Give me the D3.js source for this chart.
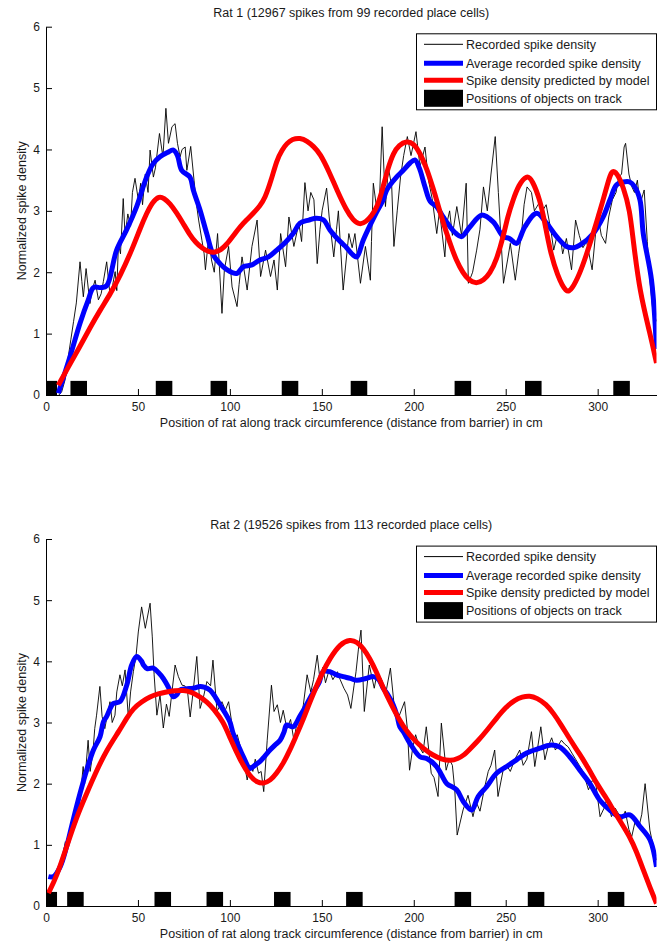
<!DOCTYPE html>
<html lang="en">
<head>
<meta charset="UTF-8">
<title>Normalized spike density along the track</title>
<script src="https://d3js.org/d3.v7.min.js"></script>
<style>
    body { margin: 0; background: #fff; }
    svg text { font-family: "Liberation Sans", Arial, sans-serif; fill: #1a1a1a; }
</style>
</head>
<body>
<svg id="chart" width="657" height="943"></svg>
<script>
    // tick labels
    const positionTicks = [0, 50, 100, 150, 200, 250, 300];
    const densityTicks = [0, 1, 2, 3, 4, 5, 6];
    const legendLabels = ["Recorded spike density", "Average recorded spike density",
        "Spike density predicted by model", "Positions of objects on track"];
    const xLabel = "Position of rat along track circumference (distance from barrier) in cm";
    const yLabel = "Normalized spike density";

    // ---- Rat 1 ----
    const rat1Title = "Rat 1 (12967 spikes from 99 recorded place cells)";
    const rat1Objects = [1.5, 17.8, 64.2, 94, 132.7, 170.2, 226.7, 265, 313];
    const rat1Recorded = [
        [7,0.0],[8.5,0.05],[10.3,0.24],[12,0.6],[13.5,0.9],[15,1.2],[16.5,1.5],[18.5,2.17],[19.5,1.85],[20.3,1.6],
        [21.8,2.06],[23.9,1.49],[25,1.7],[26.7,1.87],[28.5,1.55],[30,1.65],[31.2,1.85],[33,2.17],[34.9,1.6],[36.3,1.8],
        [37.6,2.01],[38.5,1.7],[39.4,2.47],[40.5,2.3],[42,3.2],[43,2.6],[44.5,2.95],[46,2.75],[47,3.3],[48.4,3.53],
        [50.2,3.18],[51.5,3.45],[52.5,3.1],[54,3.6],[55.5,3.3],[56.6,3.99],[58.4,3.55],[59.5,3.7],[61.7,4.26],[63.6,3.88],
        [65.2,4.67],[66.6,4.1],[68.5,4.37],[70.2,4.42],[71.5,4.1],[72.9,3.88],[74,4.0],[75.7,4.04],[76.6,3.66],[78.7,4.05],
        [80.5,3.5],[82,3.07],[83,2.85],[84.8,2.52],[86,2.3],[86.7,2.04],[88.5,2.58],[90,2.2],[91.5,2.0],[93.3,2.63],
        [95.7,1.33],[97,2.04],[99.3,2.42],[101.2,1.76],[103.9,1.44],[105,1.8],[106.6,2.25],[109.4,1.71],[112,2.42],[114.8,2.85],
        [116.7,1.93],[119.4,2.36],[122.1,1.93],[124,2.2],[125.8,1.71],[127.6,2.63],[130.3,2.09],[132.1,2.9],[134.8,2.42],[137.5,2.8],
        [139,2.5],[140.8,3.46],[142.5,3.0],[144,3.3],[145.7,3.18],[147.5,2.14],[149,2.7],[150.2,3.01],[152.6,3.37],[154,2.9],
        [156.5,2.25],[158,2.7],[159,3.0],[160,2.5],[161.6,1.71],[164.7,2.63],[166.5,2.4],[168,2.63],[171,1.82],[173.7,2.42],
        [176.4,1.87],[177,2.5],[178,3.45],[180,3.0],[181.5,3.3],[182.8,4.37],[184.6,3.07],[186.2,3.7],[188,3.4],[189.2,2.42],
        [191,3.0],[192.8,3.55],[194.5,3.9],[196.5,4.21],[198.5,3.9],[201.2,4.29],[203.4,3.72],[206.1,4.04],[208,3.5],[210,3.2],
        [212.5,2.63],[214,3.0],[216.9,2.25],[218,2.8],[219.5,3.0],[221,2.6],[223.4,3.07],[226,2.6],[228.5,3.45],[229.7,1.82],
        [232,2.0],[234.2,2.36],[236,2.7],[237.9,3.39],[240,3.0],[242,3.6],[244.3,4.21],[246,3.3],[248.8,1.82],[251,2.2],
        [252.5,2.47],[255.2,1.87],[257,2.3],[258.5,2.6],[260,3.1],[261.6,3.39],[264,3.3],[265.6,3.0],[268,3.12],[270,3.0],
        [272,3.1],[274.5,2.7],[276.1,2.36],[278,2.6],[280,2.5],[281,2.3],[283,2.55],[285.8,2.04],[288,2.85],[290,2.6],
        [292,2.4],[294,2.5],[297,2.04],[299.9,2.96],[302,2.6],[304.3,2.47],[306,2.9],[308,3.18],[310,3.3],[311.5,3.55],
        [313,3.6],[314.4,4.04],[315.2,4.1],[317,3.6],[318.5,3.4],[320,3.3],[321.6,3.5],[323,3.1],[325.3,3.34],[327,2.5],
        [328,2.0],[329.8,1.44],[331,1.3],[332,1.2]
    ];
    const rat1Average = [
        [6.7,0.03],[13,0.62],[18.5,1.17],[23,1.55],[25.8,1.75],[30,1.75],[33,1.78],[38.4,2.36],[43.8,2.69],[49.3,3.07],
        [54.7,3.55],[58.3,3.77],[62,3.88],[66,3.95],[69.3,3.99],[71.5,3.9],[73.8,3.66],[78.3,3.55],[80.1,3.34],[83.8,3.01],
        [87.4,2.63],[91,2.28],[94.6,2.14],[98,2.05],[103.7,1.98],[107.3,2.09],[112,2.12],[116.3,2.2],[121,2.25],[125.5,2.36],
        [130,2.48],[134.4,2.63],[138.1,2.8],[143,2.85],[147.1,2.88],[151,2.85],[154.4,2.69],[160,2.5],[163.5,2.4],[167,2.28],
        [169,2.25],[172.5,2.52],[176,2.75],[179.8,2.98],[183.4,3.18],[185.3,3.34],[190.6,3.55],[194.3,3.66],[198,3.78],[200.6,3.83],
        [203,3.7],[206,3.4],[209,3.15],[212.4,3.07],[216,2.9],[219.7,2.74],[223,2.63],[226,2.58],[230.6,2.74],[236.9,2.93],
        [243.2,2.82],[248.7,2.58],[252,2.55],[255.9,2.47],[260.4,2.74],[266.8,2.96],[272.2,2.8],[277.7,2.58],[283.1,2.42],[287,2.4],
        [290.3,2.44],[297.6,2.63],[303,2.9],[306.7,3.18],[310.2,3.42],[314,3.47],[317.5,3.47],[320,3.4],[323,3.18],[324.8,2.63],
        [329.3,1.87],[332,0.75]
    ];
    const rat1Model = [
        [6.7,0.16],[12,0.45],[18.5,0.79],[24,1.1],[29.4,1.38],[35,1.65],[40.2,1.93],[47.5,2.42],[51,2.7],[54.7,2.96],
        [58,3.15],[61.6,3.24],[64,3.21],[67.5,3.12],[71,2.97],[74.5,2.8],[78,2.62],[81.5,2.48],[85,2.39],[88.5,2.33],
        [91.8,2.32],[95,2.36],[98.2,2.45],[102,2.6],[105.5,2.74],[109,2.85],[112.7,2.96],[116.3,3.08],[119,3.2],[122.5,3.5],
        [125.5,3.83],[128.5,4.0],[131,4.1],[134,4.17],[138.1,4.19],[142,4.14],[145.5,4.05],[149,3.94],[154.4,3.61],[158,3.35],
        [163.5,3.0],[167,2.85],[170.5,2.77],[174,2.82],[177,2.92],[180,3.05],[183,3.35],[186,3.7],[189,3.95],[192,4.07],
        [196,4.14],[200,4.1],[203.4,3.94],[207,3.7],[210.7,3.35],[212.4,3.18],[215,2.9],[219.7,2.47],[223,2.2],[226.9,1.98],
        [230,1.87],[234,1.81],[238,1.87],[241.4,1.98],[245,2.2],[248.7,2.58],[251,2.9],[254,3.18],[257,3.42],[261.4,3.59],
        [264.5,3.5],[268.6,3.18],[271,2.85],[274,2.36],[278,1.95],[283,1.65],[286,1.72],[290.3,1.98],[293.5,2.25],[297.6,2.63],
        [303,3.18],[305.5,3.45],[307.6,3.67],[310.5,3.62],[314,3.39],[317.5,3.01],[319.3,2.52],[323,1.66],[328.5,1.0],[332,0.52]
    ];

    // ---- Rat 2 ----
    const rat2Title = "Rat 2 (19526 spikes from 113 recorded place cells)";
    const rat2Objects = [1.5, 16, 63.5, 91.8, 128.5, 167.7, 226.7, 266.5, 310];
    const rat2Recorded = [
        [5,0.45],[7,0.6],[9,0.8],[10.5,1.05],[12,0.95],[13.5,1.25],[15,1.4],[16.5,1.35],[17.5,1.46],[19,1.9],
        [20.2,2.28],[21,2.0],[22.9,2.71],[24,2.2],[25.5,2.5],[26.5,2.9],[27.5,3.12],[29.3,3.59],[30.5,3.1],[32,2.9],
        [33.5,3.15],[34.8,3.34],[36,3.0],[37.5,3.12],[38.5,3.5],[40.2,3.78],[41.5,3.6],[43,3.86],[44.8,3.07],[46,3.5],
        [47.5,3.83],[49,4.1],[50.2,4.48],[52,4.89],[54,4.54],[56.6,4.95],[57.8,4.4],[58.8,3.78],[60.3,3.12],[62,3.45],
        [63.8,2.91],[65.5,3.3],[67,3.1],[68.5,3.5],[70.2,3.94],[72,3.75],[74,3.61],[75.5,3.6],[77,3.5],[78.4,3.09],
        [80,3.5],[82,4.08],[83.8,3.23],[85.5,3.4],[87.5,3.67],[89.5,3.6],[90.8,4.02],[93,3.18],[95.7,3.34],[97.5,3.2],
        [99.3,3.34],[101,3.0],[102,2.71],[104,2.8],[105.7,2.6],[107.5,2.4],[109.4,2.06],[111,2.3],[112.5,2.2],[113.8,2.4],
        [115.6,2.17],[117,2.2],[118.4,1.87],[120.3,2.71],[122.6,3.61],[124,3.18],[125.8,3.29],[127.5,3.0],[129,3.2],[131,2.9],
        [133,3.05],[134.8,2.71],[136.5,3.0],[138,2.9],[140,3.3],[142,3.78],[144,3.5],[145.5,3.7],[147.5,4.1],[149,3.7],
        [150.5,3.9],[152,3.65],[154,3.86],[156,3.7],[158.5,3.83],[160,3.7],[162,3.56],[164,3.45],[165.8,3.23],[167.5,3.6],
        [168.6,3.83],[169.9,4.2],[171.3,4.51],[173.1,3.18],[175.8,3.94],[178.5,3.56],[180,3.8],[182.2,3.72],[184.9,3.5],[187.3,3.89],
        [189.5,3.23],[192.2,3.12],[195,3.34],[196.5,2.9],[197.7,2.22],[199.5,2.6],[201,2.8],[203,2.6],[205,2.5],[206.8,2.93],
        [209.5,2.17],[211,2.1],[213.2,1.79],[215,2.99],[217.6,2.22],[219.3,2.4],[221,2.3],[222.3,1.9],[223.6,1.16],[226.8,1.57],
        [229.5,1.81],[232.2,1.46],[234,1.7],[236,1.55],[238.6,1.95],[240.5,2.2],[242,2.3],[244,2.55],[245.8,1.79],[248.6,2.22],
        [250.5,2.3],[252.5,2.2],[255,2.4],[257.6,2.55],[259.5,2.3],[261.5,2.4],[264,2.85],[265.8,2.28],[269.1,2.93],[271.3,2.39],
        [273,2.6],[275,2.75],[277,2.55],[280.3,2.71],[282,2.65],[284,2.6],[286,2.5],[288,2.4],[290,2.3],[292,2.2],
        [295,1.9],[297,2.05],[299,2.0],[301.3,1.46],[303.5,1.6],[305,1.75],[307.5,1.46],[309.5,1.6],[311.5,1.5],[313,1.4],
        [315,1.55],[317,1.25],[318.5,1.13],[320.5,1.4],[322.5,1.3],[324,1.5],[325.8,2.0],[328.4,1.24],[331,0.86],[332,0.75]
    ];
    const rat2Average = [
        [1.3,0.48],[4,0.48],[7.7,0.64],[11.2,0.97],[14.8,1.41],[18.5,1.84],[22.1,2.22],[25.8,2.55],[29.4,2.77],[31.2,3.01],
        [33,3.1],[36.6,3.31],[40.2,3.34],[43.9,3.61],[46.6,3.94],[49.3,4.08],[52,4.0],[53,3.94],[55,3.88],[58.3,3.89],
        [61,3.82],[63.8,3.72],[66.5,3.58],[69.3,3.42],[71,3.45],[72.8,3.53],[76,3.55],[80.1,3.56],[83.8,3.59],[86,3.58],
        [89.2,3.53],[92,3.42],[94.6,3.29],[97.5,3.15],[100,3.01],[101.8,2.82],[104.5,2.63],[107.3,2.44],[111,2.25],[113.5,2.3],
        [116.3,2.36],[119,2.45],[121.8,2.55],[124.5,2.63],[127.3,2.71],[129.5,2.85],[130.8,2.96],[134.4,2.93],[138,3.1],[140,3.2],
        [145.4,3.5],[148.5,3.65],[150.7,3.83],[154.4,3.83],[158,3.78],[161.6,3.75],[165.5,3.72],[169,3.69],[174,3.72],[178,3.75],
        [181,3.7],[183.4,3.56],[186,3.45],[188.8,3.29],[191,3.1],[192.4,2.93],[194.3,2.85],[197.9,2.66],[203.4,2.44],[207,2.41],
        [212.4,2.28],[215,2.15],[218,2.0],[223.3,1.9],[226.9,1.71],[231.5,1.57],[235,1.79],[239.6,1.95],[245,2.17],[250.5,2.28],
        [255.9,2.39],[261.4,2.5],[268.6,2.58],[274,2.63],[279.4,2.6],[284.8,2.44],[290.3,2.22],[295.8,2.0],[301.2,1.73],[306.6,1.57],
        [312,1.46],[317.5,1.49],[323,1.3],[328.5,1.08],[332,0.64]
    ];
    const rat2Model = [
        [1.3,0.21],[5.8,0.48],[11.2,0.97],[16.7,1.46],[22.1,1.84],[27.6,2.22],[33,2.55],[40.2,2.88],[44,3.08],[47.5,3.23],
        [52,3.34],[56.6,3.42],[61,3.47],[65.6,3.5],[70,3.52],[74.6,3.53],[79,3.5],[83.8,3.42],[87.5,3.34],[91,3.23],
        [96.5,3.01],[100,2.75],[105.5,2.39],[111,2.11],[115,2.02],[118.2,2.0],[122,2.05],[125.5,2.17],[129,2.33],[132.7,2.55],
        [136,2.78],[139.5,3.02],[143,3.3],[146.5,3.55],[150,3.8],[154.4,4.05],[160,4.29],[165.5,4.36],[169,4.32],[172.7,4.21],
        [176,4.05],[179.5,3.84],[183.4,3.56],[188,3.28],[192,3.05],[196,2.86],[200,2.72],[205,2.58],[210,2.47],[215,2.4],
        [220,2.37],[224,2.41],[227,2.46],[230,2.55],[235,2.7],[240,2.88],[245,3.07],[250,3.25],[255,3.37],[259,3.42],
        [263,3.44],[267,3.4],[272,3.3],[276,3.15],[280,2.97],[285,2.72],[290.3,2.48],[295,2.25],[299.5,2.0],[304,1.8],
        [308.5,1.57],[313,1.35],[317.5,1.13],[321,0.9],[324.8,0.59],[328.5,0.3],[332,0.04]
    ];

    const svg = d3.select("#chart");
    const objectWidth = 9;     // cm
    const objectHeight = 0.23; // density units
    const labelSize = 12.5;

    const panels = [
        { title: rat1Title, top: 26.7, bottom: 395, recorded: rat1Recorded, average: rat1Average, model: rat1Model, objects: rat1Objects },
        { title: rat2Title, top: 539, bottom: 906, recorded: rat2Recorded, average: rat2Average, model: rat2Model, objects: rat2Objects }
    ];

    const x = d3.scaleLinear().domain([0, 332]).range([46, 656.5]);

    panels.forEach((p, i) => {
        const y = d3.scaleLinear().domain([0, 6]).range([p.bottom, p.top]);
        const g = svg.append("g");
        const clipId = "clip" + i;

        g.append("clipPath").attr("id", clipId)
            .append("rect")
            .attr("x", x(0)).attr("y", p.top - 5)
            .attr("width", x(332) - x(0)).attr("height", p.bottom - p.top + 5);

        const plot = g.append("g").attr("clip-path", `url(#${clipId})`);

        // objects on track
        plot.selectAll("rect.obj")
            .data(p.objects)
            .enter().append("rect")
            .attr("class", "obj")
            .attr("x", d => x(d - objectWidth / 2))
            .attr("y", y(objectHeight))
            .attr("width", x(objectWidth) - x(0))
            .attr("height", y(0) - y(objectHeight))
            .attr("fill", "black");

        const rawLine = d3.line().x(d => x(d[0])).y(d => y(d[1]));
        const avgLine = d3.line().x(d => x(d[0])).y(d => y(d[1])).curve(d3.curveCatmullRom);
        const modelLine = d3.line().x(d => x(d[0])).y(d => y(d[1])).curve(d3.curveBasis);

        plot.append("path").datum(p.recorded)
            .attr("d", rawLine).attr("fill", "none")
            .attr("stroke", "black").attr("stroke-width", 0.9);

        plot.append("path").datum(p.average)
            .attr("d", avgLine)
            .attr("fill", "none").attr("stroke", "#0000ff")
            .attr("stroke-width", 5).attr("stroke-linejoin", "round");

        plot.append("path").datum(p.model)
            .attr("d", modelLine)
            .attr("fill", "none").attr("stroke", "#ff0000")
            .attr("stroke-width", 5).attr("stroke-linejoin", "round");

        // axes, ticks pointing inward
        g.append("g")
            .attr("transform", `translate(0,${p.bottom})`)
            .call(d3.axisBottom(x).tickValues(positionTicks).tickSizeInner(-6).tickSizeOuter(0).tickPadding(7))
            .call(a => a.selectAll("text").attr("font-size", 12).attr("font-family", null));

        g.append("g")
            .attr("transform", `translate(${x(0)},0)`)
            .call(d3.axisLeft(y).tickValues(densityTicks).tickFormat(d3.format("d"))
                .tickSizeInner(-6).tickSizeOuter(0).tickPadding(6))
            .call(a => a.selectAll("text").attr("font-size", 12).attr("font-family", null));

        g.selectAll(".domain, .tick line").attr("stroke", "black");

        g.append("text")
            .attr("x", (x(0) + x(332)) / 2).attr("y", p.top - 10)
            .attr("text-anchor", "middle").attr("font-size", labelSize)
            .text(p.title);

        g.append("text")
            .attr("x", (x(0) + x(332)) / 2).attr("y", p.bottom + 31.5)
            .attr("text-anchor", "middle").attr("font-size", labelSize)
            .text(xLabel);

        g.append("text")
            .attr("transform", `translate(26,${(p.top + p.bottom) / 2}) rotate(-90)`)
            .attr("text-anchor", "middle").attr("font-size", labelSize)
            .text(yLabel);

        // legend
        const lg = g.append("g").attr("transform", `translate(416,${p.top + 6.6})`);
        lg.append("rect")
            .attr("x", 0.5).attr("y", 0.5).attr("width", 240).attr("height", 76)
            .attr("fill", "white").attr("stroke", "black");

        const rowY = [11, 30, 47, 65];
        const sample = [
            { stroke: "black", w: 1 },
            { stroke: "#0000ff", w: 5 },
            { stroke: "#ff0000", w: 5 }
        ];
        sample.forEach((s, k) => {
            lg.append("line")
                .attr("x1", 8).attr("x2", 47).attr("y1", rowY[k]).attr("y2", rowY[k])
                .attr("stroke", s.stroke).attr("stroke-width", s.w);
        });
        lg.append("rect")
            .attr("x", 8).attr("y", rowY[3] - 8.5).attr("width", 39).attr("height", 17)
            .attr("fill", "black");

        lg.selectAll("text.leg")
            .data(legendLabels)
            .enter().append("text")
            .attr("class", "leg")
            .attr("x", 50).attr("y", (d, k) => rowY[k])
            .attr("dy", "0.35em").attr("font-size", labelSize)
            .text(d => d);
    });
</script>
</body>
</html>
